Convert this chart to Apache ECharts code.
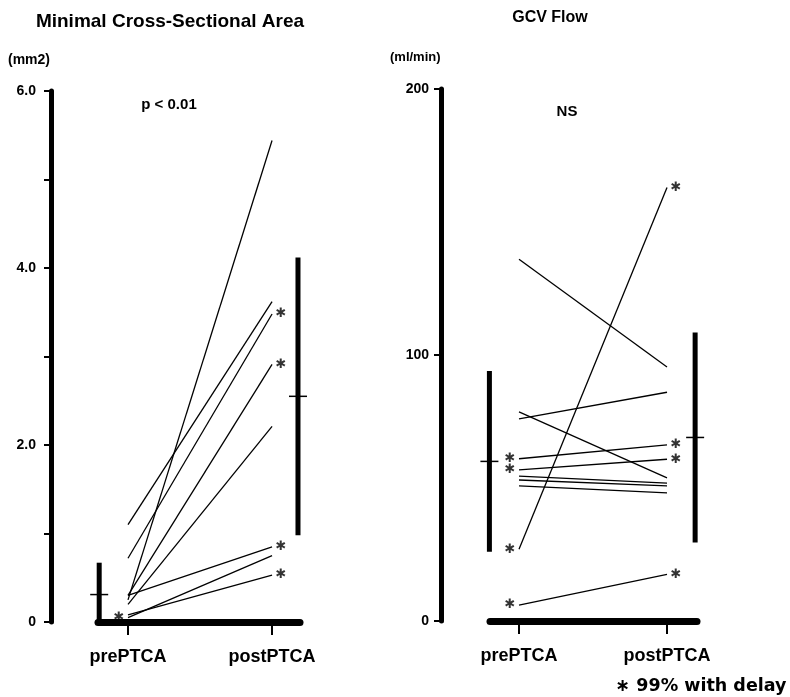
<!DOCTYPE html>
<html><head><meta charset="utf-8">
<script src="https://cdn.jsdelivr.net/npm/echarts@6/dist/echarts.min.js"></script>
<style>html,body{margin:0;padding:0;background:#fff}#c{width:790px;height:697px}</style>
</head><body><div id="c"></div>
<script>
// ---- data ----
const categories = ['prePTCA', 'postPTCA'];
// Minimal cross-sectional area (mm2), one line per patient
const mcsaPre  = [0.25, 1.10, 0.72, 0.30, 0.20, 0.30, 0.05, 0.08];
const mcsaPost = [5.44, 3.62, 3.48, 2.91, 2.21, 0.85, 0.75, 0.53];
const mcsaPreStar  = [0, 0, 0, 0, 0, 0, 1, 0];
const mcsaPostStar = [0, 0, 1, 1, 0, 1, 0, 1];
const mcsaMean = [0.31, 2.55];
const mcsaSD   = [0.36, 1.57];
const mcsaTicks = [0, 1, 2, 3, 4, 5, 6];
// GCV flow (ml/min)
const gcvPre  = [136, 27, 78.6, 76, 61, 56.8, 54.5, 53, 50.8, 6];
const gcvPost = [95.5, 163, 53.8, 86, 66.2, 60.8, 51.8, 50.8, 48.2, 17.5];
const gcvPreStar  = [0, 1, 0, 0, 1, 1, 0, 0, 0, 1];
const gcvPostStar = [0, 1, 0, 0, 1, 1, 0, 0, 0, 1];
const gcvMean = [60, 69];
const gcvSD   = [34, 39.5];
const gcvTicks = [0, 100, 200];

const F = 'Liberation Sans, Arial, sans-serif';
const chart = echarts.init(document.getElementById('c'));

function lineSeries(pre, post, gi) {
  return pre.map((v, i) => ({
    type: 'line', xAxisIndex: gi, yAxisIndex: gi, silent: true, symbol: 'none',
    lineStyle: { color: '#000', width: 1.3 },
    data: [[0, v], [1, post[i]]], z: 3
  }));
}
function starSeries(pre, post, preStar, postStar, gi) {
  const d = [];
  pre.forEach((v, i) => { if (preStar[i]) d.push({ value: [0, v], label: { position: 'left' } }); });
  post.forEach((v, i) => { if (postStar[i]) d.push({ value: [1, v], label: { position: 'right' } }); });
  return {
    type: 'scatter', xAxisIndex: gi, yAxisIndex: gi, silent: true, symbolSize: 1,
    itemStyle: { color: 'rgba(0,0,0,0)' },
    label: { show: true, formatter: '\u2731', fontSize: 13, color: '#000', distance: 3, fontFamily: 'DejaVu Sans' },
    data: d, z: 4
  };
}
function sdSeries(means, sds, xs, gi) {
  return {
    type: 'custom', xAxisIndex: gi, yAxisIndex: gi, silent: true, clip: false, z: 5,
    data: means.map((m, i) => [xs[i], m, sds[i]]),
    renderItem: (p, api) => {
      const x = api.value(0), m = api.value(1), s = api.value(2);
      const top = api.coord([x, m + s]), bot = api.coord([x, Math.max(0, m - s)]), mid = api.coord([x, m]);
      return { type: 'group', children: [
        { type: 'line', shape: { x1: top[0], y1: top[1], x2: bot[0], y2: bot[1] }, style: { stroke: '#000', lineWidth: 5 } },
        { type: 'line', shape: { x1: mid[0] - 9, y1: mid[1], x2: mid[0] + 9, y2: mid[1] }, style: { stroke: '#000', lineWidth: 1.5 } }
      ]};
    }
  };
}
function xAx(gi, min, max) {
  return {
    type: 'value', gridIndex: gi, min: min, max: max, splitLine: { show: false },
    axisLine: { show: true, onZero: false, lineStyle: { color: '#000', width: 7 } },
    axisTick: { show: true, customValues: [0, 1], length: 13, lineStyle: { color: '#000', width: 2 } },
    axisLabel: { show: true, customValues: [0, 1], margin: 26, formatter: v => categories[Math.round(v)],
      fontSize: 18, fontWeight: 'bold', fontFamily: F, color: '#000' }
  };
}
function yAx(gi, max, interval, offset, margin, fmt) {
  return {
    type: 'value', gridIndex: gi, min: 0, max: max, interval: interval, offset: offset,
    splitLine: { show: false },
    axisLine: { show: true, onZero: false, lineStyle: { color: '#000', width: 5 } },
    axisTick: { show: true, length: 7, lineStyle: { color: '#000', width: 2 } },
    axisLabel: { margin: margin, fontSize: 14, fontWeight: 'bold', fontFamily: F, color: '#000', formatter: fmt }
  };
}
function txt(x, y, t, size, align, weight, family) {
  return { type: 'text', x: x, y: y, silent: true, style: { text: t, fill: '#000',
    font: (weight || 'bold') + ' ' + size + 'px ' + (family || F), textAlign: align || 'center', textVerticalAlign: 'middle' } };
}

chart.setOption({
  animation: false,
  grid: [
    { left: 98, top: 91, width: 202, height: 531 },
    { left: 490, top: 89, width: 207, height: 532 }
  ],
  xAxis: [xAx(0, -0.2083, 1.194), xAx(1, -0.196, 1.2026)],
  yAxis: [
    yAx(0, 6, 1, 47, 15, v => v === 0 ? '0' : (v % 2 === 0 ? v.toFixed(1) : '')),
    yAx(1, 200, 100, 49, 12, v => String(v))
  ],
  series: [].concat(
    lineSeries(mcsaPre, mcsaPost, 0),
    lineSeries(gcvPre, gcvPost, 1),
    [starSeries(mcsaPre, mcsaPost, mcsaPreStar, mcsaPostStar, 0),
     starSeries(gcvPre, gcvPost, gcvPreStar, gcvPostStar, 1),
     sdSeries(mcsaMean, mcsaSD, [-0.2, 1.18], 0),
     sdSeries(gcvMean, gcvSD, [-0.2, 1.19], 1)]
  ),
  graphic: [
    txt(170, 22, 'Minimal Cross-Sectional Area', 19),
    txt(550, 18, 'GCV Flow', 16),
    txt(8, 60, '(mm2)', 14, 'left'),
    txt(390, 57, '(ml/min)', 13, 'left'),
    txt(169, 105, 'p < 0.01', 15),
    txt(567, 112, 'NS', 15),
    txt(701, 686, '\u2217 99% with delay', 17.5, 'center', 'bold', 'DejaVu Sans')
  ]
});
</script></body></html>
